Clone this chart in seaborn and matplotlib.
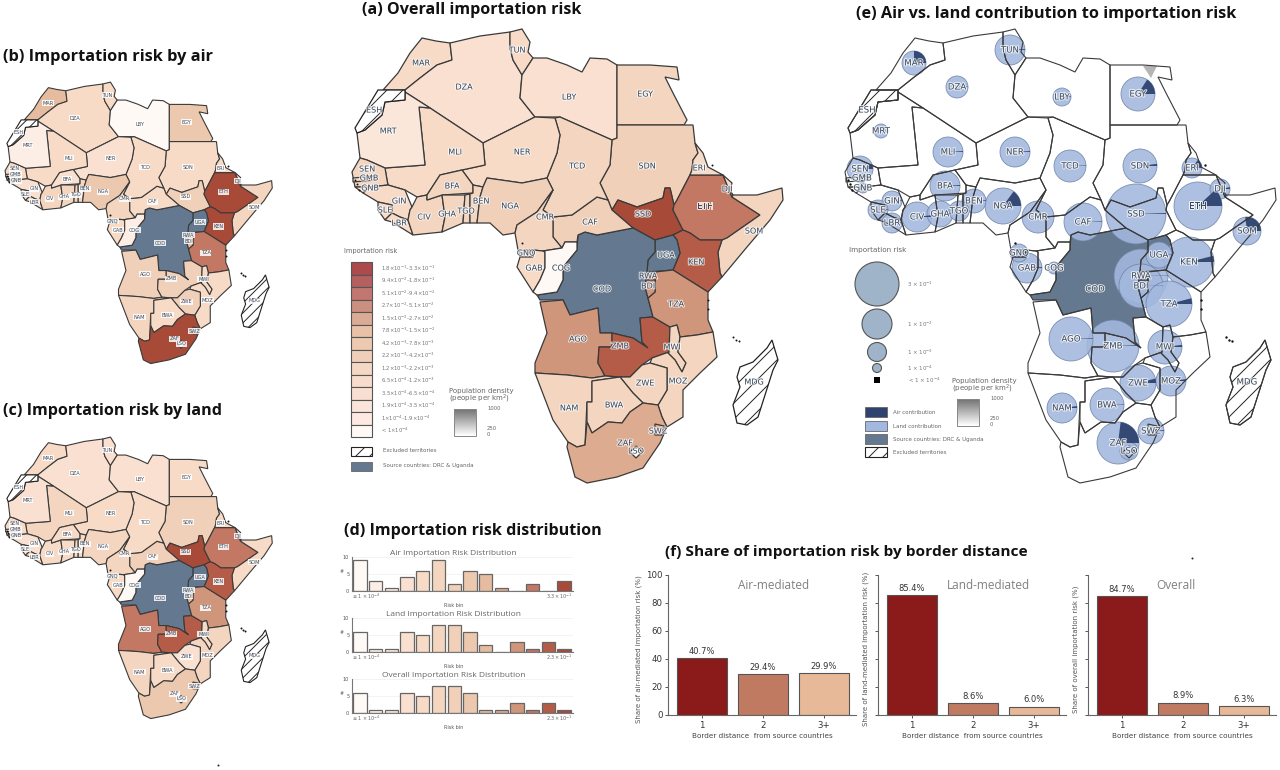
"""Importation risk figure: five Africa maps, risk histograms, border distance bars."""
import matplotlib
matplotlib.use("Agg")
import matplotlib.patheffects as pe
import matplotlib.pyplot as plt
import numpy as np
import seaborn as sns
from matplotlib.patches import Circle, Polygon, Rectangle, Wedge

# country outlines, hand traced (map units, y down)
OUTLINES = {
    "MAR": [(422,38),(436,41),(450,43),(452,60),(437,65),(420,78),(405,90),(383,90),(398,73),(410,53)],
    "DZA": [(450,43),(480,36),(510,32),(510,48),(513,60),(522,75),(520,98),(535,117),(483,143),(430,108),(405,92),(405,90),(420,78),(437,65),(452,60)],
    "TUN": [(510,32),(522,29),(530,42),(528,52),(533,58),(522,75),(513,60),(510,48)],
    "LBY": [(533,58),(547,58),(567,65),(582,72),(590,58),(607,59),(617,65),(617,125),(617,138),(612,140),(560,117),(535,117),(520,98),(522,75)],
    "EGY": [(617,65),(650,65),(677,67),(679,80),(665,77),(673,93),(687,120),(684,125),(617,125)],
    "SDN": [(617,125),(684,125),(693,125),(695,143),(698,153),(693,160),(692,170),(690,175),(677,200),(674,205),(670,188),(665,188),(663,198),(637,207),(618,200),(612,210),(608,200),(600,183),(610,165),(612,140),(617,138)],
    "SSD": [(618,200),(637,207),(663,198),(665,188),(670,188),(674,205),(673,210),(683,230),(673,235),(655,240),(633,228),(612,210)],
    "ETH": [(690,175),(723,175),(732,197),(760,215),(727,238),(722,240),(700,240),(690,233),(683,230),(673,210),(674,205),(677,200)],
    "ERI": [(695,143),(703,153),(708,167),(723,175),(690,175),(692,170),(693,160),(698,153)],
    "DJI": [(723,175),(732,183),(730,190),(733,195),(732,197)],
    "SOM": [(733,195),(757,195),(782,188),(783,200),(770,220),(747,247),(722,277),(720,273),(718,252),(722,240),(727,238),(760,215),(732,197)],
    "KEN": [(673,235),(683,230),(690,233),(700,240),(722,240),(718,252),(720,273),(722,277),(708,292),(673,270),(680,253),(677,240)],
    "UGA": [(655,240),(673,235),(677,240),(680,253),(673,270),(647,272),(648,260),(655,252)],
    "COD": [(578,235),(585,232),(597,235),(633,228),(655,240),(655,252),(648,260),(647,272),(645,287),(648,298),(653,317),(640,318),(642,342),(648,348),(633,338),(612,333),(600,333),(598,308),(570,315),(563,300),(540,300),(537,295),(557,292),(563,280),(563,267),(577,250)],
    "CAF": [(597,197),(608,200),(612,210),(633,228),(597,235),(585,232),(578,235),(577,242),(565,242),(562,248),(553,237),(553,217),(572,215)],
    "TCD": [(555,118),(560,117),(612,140),(610,165),(600,183),(608,200),(597,197),(572,215),(553,217),(543,210),(553,190),(547,178),(557,153),(560,135)],
    "NER": [(483,143),(535,117),(555,118),(560,135),(557,153),(547,178),(522,183),(487,178),(483,187),(473,185),(462,170),(485,165)],
    "MLI": [(419,107),(430,108),(483,143),(485,165),(462,170),(440,175),(427,195),(417,197),(405,190),(388,185),(387,180),(385,168),(425,165)],
    "MRT": [(405,100),(405,92),(430,108),(419,107),(425,165),(385,168),(367,160),(360,158),(357,133),(365,130),(382,115),(385,102)],
    "ESH": [(355,128),(378,90),(383,90),(405,90),(405,100),(385,102),(382,115),(365,130),(357,133)],
    "SEN": [(352,172),(360,158),(367,160),(385,168),(387,180),(388,185),(370,187),(355,187)],
    "GMB": [(353,178),(375,176),(375,180),(353,182)],
    "GNB": [(355,187),(370,187),(363,193)],
    "GIN": [(363,193),(370,187),(388,185),(405,190),(412,207),(410,210),(408,220),(400,217),(392,213),(392,205),(378,202)],
    "SLE": [(378,202),(392,205),(392,213),(385,220),(378,210)],
    "LBR": [(385,220),(392,213),(400,217),(408,220),(413,235),(392,222)],
    "CIV": [(412,207),(417,197),(427,195),(427,200),(442,195),(445,217),(442,232),(413,235),(408,220),(410,210)],
    "BFA": [(427,195),(440,175),(462,170),(473,185),(473,193),(442,195),(427,200)],
    "GHA": [(442,195),(465,195),(463,223),(442,232),(445,217)],
    "TGO": [(465,195),(470,194),(470,223),(463,223)],
    "BEN": [(470,194),(473,193),(473,185),(483,187),(480,197),(477,223),(470,223)],
    "NGA": [(477,223),(480,197),(483,187),(487,178),(522,183),(547,178),(553,190),(537,212),(517,225),(515,233),(503,235),(490,223)],
    "CMR": [(515,233),(517,225),(537,212),(553,190),(543,210),(553,217),(553,237),(562,248),(543,251),(533,250),(518,250)],
    "GNQ": [(518,250),(533,250),(533,257),(520,257)],
    "GAB": [(520,257),(533,257),(533,250),(543,251),(545,252),(545,268),(540,280),(533,292),(517,267)],
    "COG": [(543,251),(562,248),(565,242),(577,242),(577,250),(563,267),(563,280),(557,292),(537,295),(533,292),(540,280),(545,268),(545,252)],
    "AGO": [(540,302),(563,300),(570,315),(598,308),(600,333),(612,333),(612,347),(599,347),(598,363),(605,376),(592,378),(567,375),(535,373),(535,363),(547,333)],
    "ZMB": [(640,318),(653,317),(670,327),(669,352),(652,358),(642,365),(630,377),(620,377),(605,376),(598,363),(599,347),(612,347),(612,333),(633,338),(648,348),(642,342)],
    "TZA": [(655,272),(673,270),(708,292),(708,320),(713,332),(697,335),(680,337),(677,325),(670,327),(653,317),(648,298),(655,292),(655,280)],
    "RWA": [(647,272),(655,272),(655,280),(646,280)],
    "BDI": [(646,280),(655,280),(655,292),(648,298),(645,287)],
    "MWI": [(670,327),(677,325),(680,337),(678,352),(686,363),(682,372),(675,360),(668,353),(669,352)],
    "MOZ": [(680,337),(697,335),(713,332),(717,357),(700,373),(683,390),(683,417),(667,427),(662,417),(658,405),(667,390),(667,368),(650,363),(652,358),(669,352),(668,353),(675,360),(682,372),(686,363),(678,352)],
    "ZWE": [(620,377),(630,377),(642,365),(650,363),(667,368),(667,390),(658,405),(643,403),(633,393)],
    "NAM": [(535,373),(567,375),(592,378),(605,376),(620,377),(592,381),(592,402),(587,402),(585,445),(577,447),(568,442),(553,420)],
    "BWA": [(592,381),(620,377),(633,393),(643,403),(630,412),(622,423),(608,422),(592,433),(587,422),(587,402),(592,402)],
    "ZAF": [(587,422),(592,433),(608,422),(622,423),(630,412),(643,403),(658,405),(662,417),(667,427),(660,443),(643,468),(617,477),(587,483),(575,477),(567,447),(568,442),(577,447),(585,445)],
    "SWZ": [(655,424),(664,426),(662,435),(655,435)],
    "LSO": [(630,452),(636,446),(642,452),(636,458)],
    "MDG": [(772,340),(778,360),(773,370),(758,417),(747,425),(737,423),(733,405),(740,387),(737,377),(740,367),(753,362),(767,348)],
}
EXCLUDED = ["ESH", "MDG"]
SOURCES = ["COD", "UGA"]

# risk class per country, 0 = lowest, 13 = highest
COUNTRIES = ["MAR","DZA","TUN","LBY","EGY","MRT","MLI","NER","TCD","SDN","ERI","DJI","ETH","SOM","SSD","CAF",
             "CMR","NGA","BEN","TGO","GHA","BFA","CIV","LBR","SLE","GIN","GNB","GMB","SEN","GAB","GNQ","COG",
             "KEN","TZA","RWA","BDI","AGO","ZMB","MWI","MOZ","ZWE","NAM","BWA","ZAF","SWZ","LSO"]
RISK_OVERALL = [4,3,4,3,5,2,4,4,5,6,4,4,11,5,13,6,5,6,5,5,5,5,5,4,4,4,3,4,5,4,4,0,12,10,10,10,10,12,5,5,5,5,5,9,9,0]
RISK_AIR = [8,4,4,0,7,1,4,3,4,4,4,3,13,5,6,4,5,7,5,5,5,3,5,4,4,3,3,3,4,4,4,1,13,11,8,8,6,6,4,4,6,5,4,13,9,0]
RISK_LAND = [4,3,3,3,4,3,5,4,4,6,4,3,11,4,13,6,5,5,4,4,4,4,4,4,4,3,3,3,4,4,4,0,12,10,8,8,11,12,4,5,3,5,4,7,7,0]

# circle radius and air share for the contribution map
CIRCLE_CODES = ["RWA","BDI","SSD","ZMB","ETH","KEN","TZA","AGO","ZAF","CAF","NGA","ZWE","EGY","SDN","BWA","MWI",
                "TCD","CMR","MLI","NER","BFA","CIV","TUN","MOZ","GAB","NAM","SOM","GHA","SEN","SWZ","UGA","MAR",
                "BEN","DZA","ERI","DJI","GIN","SLE","LBR","TGO","LBY","LSO","GNQ","MRT","COG","GNB"]
CIRCLE_RADII = [27,22,30,26,24,25,23,22,21,19,18,18,17,17,17,17,16,16,15,15,15,15,15,15,15,15,14,13,13,13,13,12,12,11,10,10,10,10,10,10,9,9,9,7,6,5]
AIR_SHARE = [.002,.002,.005,.005,.12,.04,.04,.005,.23,.005,.15,.04,.16,.02,.005,.02,.005,.01,.01,.01,.01,.02,.01,.02,.01,.02,.27,.01,.06,.01,.005,.25,.01,.005,.15,.03,.01,.01,.01,.01,.01,.01,.01,.01,.01,.01]

LABEL_POS = {
    "MAR":(421,63),"DZA":(464,87),"TUN":(517,50),"LBY":(569,97),"EGY":(645,94),"ESH":(374,110),"MRT":(388,131),
    "MLI":(455,152),"NER":(522,152),"TCD":(577,166),"SDN":(647,166),"ERI":(699,168),"DJI":(727,189),"ETH":(705,206),
    "SSD":(643,214),"SOM":(754,231),"SEN":(367,169),"GMB":(369,178),"GNB":(370,188),"GIN":(399,201),"SLE":(385,210),
    "LBR":(399,223),"CIV":(424,217),"BFA":(452,186),"GHA":(447,214),"TGO":(466,211),"BEN":(481,201),"NGA":(510,206),
    "CMR":(545,217),"CAF":(590,222),"GNQ":(526,253),"GAB":(534,268),"COG":(561,268),"COD":(602,289),"UGA":(666,255),
    "KEN":(696,262),"RWA":(648,276),"BDI":(648,286),"TZA":(676,304),"AGO":(578,339),"ZMB":(620,346),"MWI":(672,347),
    "MOZ":(678,381),"ZWE":(645,383),"NAM":(569,408),"BWA":(614,405),"SWZ":(658,431),"ZAF":(625,443),"LSO":(636,451),
    "MDG":(754,382),
}
ISLANDS = [(733,337),(736,340),(739,341),(708,300),(708,309),(712,165),(522,243),(355,180),(357,184),(359,190)]
NILE_DELTA = [(650,66),(664,66),(658,78)]

RISK_PALETTE = ["#fff9f5","#fdeee5","#fbe6da","#f9e0d0","#f7dbc7","#f4d6c0","#f0d0b8","#ecc9ae",
                "#e5bc9f","#dcab90","#d0967c","#c27863","#b45c48","#a84a38"]
LEGEND_PALETTE = ["#fff9f6","#fde9e1","#fbe4da","#f8dfd1","#f7dccb","#f4d8c4","#efcfb9","#ecc9b0",
                  "#e8c1a7","#dcab95","#cc9080","#c27670","#b5605e","#ad4a4c"]
SOURCE_COLOR = "#64788f"
AIR_COLOR = "#2f436f"
LAND_COLOR = "#a3b8de"
LEGEND_CIRCLE = "#9fb4c8"

RISK_BINS = ["<1", "2", "3", "4", "5", "6", "7", "8", "9", "10", "11", "12", "13", "14"]
RISK_RANGES = [r"1.8$\times10^{-1}$–3.3$\times10^{-1}$", r"9.4$\times10^{-2}$–1.8$\times10^{-1}$",
               r"5.1$\times10^{-2}$–9.4$\times10^{-2}$", r"2.7$\times10^{-2}$–5.1$\times10^{-2}$",
               r"1.5$\times10^{-2}$–2.7$\times10^{-2}$", r"7.8$\times10^{-3}$–1.5$\times10^{-2}$",
               r"4.2$\times10^{-3}$–7.8$\times10^{-3}$", r"2.2$\times10^{-3}$–4.2$\times10^{-3}$",
               r"1.2$\times10^{-3}$–2.2$\times10^{-3}$", r"6.5$\times10^{-4}$–1.2$\times10^{-3}$",
               r"3.5$\times10^{-4}$–6.5$\times10^{-4}$", r"1.9$\times10^{-4}$–3.5$\times10^{-4}$",
               r"1$\times10^{-4}$–1.9$\times10^{-4}$", r"< 1$\times10^{-4}$"]

HIST_AIR = [9, 3, 1, 4, 6, 9, 2, 6, 5, 1, 0, 2, 0, 3]
HIST_LAND = [6, 1, 1, 6, 5, 8, 8, 6, 2, 0, 3, 1, 3, 1]
HIST_OVERALL = [6, 1, 1, 6, 5, 8, 8, 6, 1, 1, 3, 1, 3, 1]

DISTANCE = ["1", "2", "3+"]
SHARE_AIR = [40.7, 29.4, 29.9]
SHARE_LAND = [85.4, 8.6, 6.0]
SHARE_OVERALL = [84.7, 8.9, 6.3]
DISTANCE_COLORS = ["#8b1a1a", "#c07a62", "#e8b999"]

W, H = 1280, 770
sns.set_theme(style="white", rc={"axes.linewidth": 0.8})
fig = plt.figure(figsize=(W / 100, H / 100), dpi=100, facecolor="white")


def px_axes(left, top, width, height):
    return fig.add_axes([left / W, 1 - (top + height) / H, width / W, height / H])


def map_axes(dx, dy, scale):
    ax = px_axes(dx + scale * 340, dy + scale * 20, scale * 460, scale * 480)
    ax.set_xlim(340, 800)
    ax.set_ylim(500, 20)
    ax.axis("off")
    return ax


def hatched(ax, pts, spacing, lw, zorder):
    """White shape with diagonal lines clipped to it."""
    patch = ax.add_patch(Polygon(pts, facecolor="white", edgecolor="#222222", lw=lw, zorder=zorder))
    xs, ys = zip(*pts)
    for c in np.arange(min(xs) + min(ys), max(xs) + max(ys), spacing):
        line, = ax.plot([min(xs), max(xs)], [c - min(xs), c - max(xs)], color="#222222", lw=0.7, zorder=zorder)
        line.set_clip_path(patch)


def draw_map(ax, classes, lw, fontsize, boxed):
    risk = dict(zip(COUNTRIES, classes))
    for code, pts in OUTLINES.items():
        if code in EXCLUDED:
            hatched(ax, pts, 16, lw, 1)
            continue
        color = SOURCE_COLOR if code in SOURCES else RISK_PALETTE[risk[code]]
        ax.add_patch(Polygon(pts, facecolor=color, edgecolor="#3a3a3a", lw=lw, zorder=1))
    ax.scatter(*zip(*ISLANDS), s=2, color="#111111", zorder=2, linewidths=0)
    draw_labels(ax, fontsize, boxed)


def draw_labels(ax, fontsize, boxed):
    for code, (x, y) in LABEL_POS.items():
        kw = {}
        if boxed:
            kw["bbox"] = dict(facecolor="white", edgecolor="none", pad=0.4, alpha=0.85)
        txt = ax.text(x, y, code, fontsize=fontsize, color="#3c4a5c", ha="center", va="center", zorder=6, **kw)
        if not boxed:
            txt.set_path_effects([pe.withStroke(linewidth=1.4, foreground="white", alpha=0.8)])


def draw_contribution_map(ax):
    for code, pts in OUTLINES.items():
        if code in EXCLUDED:
            hatched(ax, pts, 16, 0.8, 1)
            continue
        color = SOURCE_COLOR if code in SOURCES else "white"
        ax.add_patch(Polygon(pts, facecolor=color, edgecolor="none", zorder=1))
    ax.add_patch(Polygon(NILE_DELTA, facecolor="#b5b5b5", edgecolor="none", zorder=1))
    for code, radius, air in zip(CIRCLE_CODES, CIRCLE_RADII, AIR_SHARE):
        center = LABEL_POS[code]
        ax.add_patch(Circle(center, radius, facecolor=LAND_COLOR, edgecolor="#6f84a8", lw=0.6, alpha=0.88, zorder=2))
        # y axis runs down, so a negative start angle opens the wedge upwards
        ax.add_patch(Wedge(center, radius, -360 * air, 0, facecolor=AIR_COLOR, edgecolor="none", alpha=0.95, zorder=3))
    for code, pts in OUTLINES.items():
        ax.add_patch(Polygon(pts, fill=False, edgecolor="#3a3a3a", lw=0.8, zorder=4))
    ax.scatter(*zip(*ISLANDS), s=3, color="#111111", zorder=5, linewidths=0)
    draw_labels(ax, 6.2, False)


def risk_histogram(top, title, counts, high_label):
    ax = px_axes(352, top, 221, 34)
    sns.barplot(x=RISK_BINS, y=counts, hue=RISK_BINS, palette=RISK_PALETTE, legend=False, width=0.85,
                saturation=1, edgecolor="#666666", linewidth=0.9, ax=ax)
    ax.set_xlim(-0.51, 13.57)
    ax.set_ylim(0, 10)
    ax.set_yticks([0, 5, 10])
    ax.set_xticks([])
    ax.tick_params(axis="y", labelsize=3.5, length=0, pad=2, labelcolor="#555555")
    ax.yaxis.grid(True, color="#eeeeee", lw=0.5)
    ax.set_axisbelow(True)
    sns.despine(ax=ax)
    for side in ["left", "bottom"]:
        ax.spines[side].set_color("#777777")
    ax.set_ylabel("#", fontsize=3.5, color="#555555", labelpad=1, rotation=0)
    ax.set_title(title, fontsize=6, color="#666666", pad=1.5, x=0.46, family="Open Sans")
    ax.text(0.0, -0.24, r"$\leq 1\times10^{-4}$", transform=ax.transAxes, fontsize=3.5, color="#666666", ha="left")
    ax.text(1.0, -0.24, high_label, transform=ax.transAxes, fontsize=3.5, color="#666666", ha="right")
    ax.text(0.46, -0.46, "Risk bin", transform=ax.transAxes, fontsize=3.5, color="#555555", ha="center")


def share_bars(left, values, name, name_x, ylabel, show_labels, label_x):
    ax = px_axes(left, 575, 188, 140)
    sns.barplot(x=DISTANCE, y=values, hue=DISTANCE, palette=DISTANCE_COLORS, legend=False, width=0.82,
                saturation=1, edgecolor="#555555", linewidth=0.8, ax=ax)
    ax.set_xlim(-0.55, 2.53)
    ax.set_ylim(0, 100)
    ax.set_yticks([0, 20, 40, 60, 80, 100])
    ax.tick_params(axis="both", labelsize=6.2, length=2, width=0.7, pad=2, labelcolor="#333333", color="#555555",
                   bottom=True, left=True)
    if not show_labels:
        ax.set_yticklabels([])
    sns.despine(ax=ax)
    for side in ["left", "bottom"]:
        ax.spines[side].set_color("#666666")
    for pos, val in enumerate(values):
        ax.text(pos, val + 1.5, f"{val:.1f}%", fontsize=6, color="#333333", ha="center", va="bottom")
    ax.text(name_x, 0.925, name, transform=ax.transAxes, fontsize=8.5, color="#808080", ha="center", va="center",
            family="Open Sans")
    ax.set_ylabel(ylabel, fontsize=5, color="#555555")
    ax.yaxis.set_label_coords(label_x, 0.47)
    ax.set_xlabel("Border distance  from source countries", fontsize=5.2, color="#444444", labelpad=2.5)


def density_legend(ax, x, y):
    ax.text(x, y, "Population density", fontsize=5, color="#666666", va="center")
    ax.text(x, y + 8, "(people per km$^2$)", fontsize=5, color="#666666", va="center")
    ax.imshow(np.linspace(0.45, 1, 40).reshape(-1, 1), cmap="gray", vmin=0, vmax=1, aspect="auto",
              extent=(x + 5, x + 27, y + 45, y + 18), zorder=2)
    ax.add_patch(Rectangle((x + 5, y + 18), 22, 27, fill=False, edgecolor="#888888", lw=0.7, zorder=3))
    for text, offset in [("1000", 18), ("250", 38), ("0", 44)]:
        ax.text(x + 38, y + offset, text, fontsize=3.8, color="#666666", va="center")


# maps
draw_map(map_axes(0, 0, 1.0), RISK_OVERALL, 0.9, 5.8, False)
draw_map(map_axes(-213.2, 64.1, 0.62), RISK_AIR, 0.8, 3.6, True)
draw_map(map_axes(-213.2, 419.1, 0.62), RISK_LAND, 0.8, 3.6, True)
draw_contribution_map(map_axes(493, 0, 1.0))

# histograms and bars
risk_histogram(557, "Air Importation Risk Distribution", HIST_AIR, r"$3.3\times10^{-1}$")
risk_histogram(618, "Land Importation Risk Distribution", HIST_LAND, r"$2.3\times10^{-1}$")
risk_histogram(679, "Overall Importation Risk Distribution", HIST_OVERALL, r"$2.3\times10^{-1}$")
share_bars(668, SHARE_AIR, "Air-mediated", 0.56, "Share of air-mediated importation risk (%)", True, -0.138)
share_bars(878, SHARE_LAND, "Land-mediated", 0.59, "Share of land-mediated importation risk (%)", False, -0.048)
share_bars(1088, SHARE_OVERALL, "Overall", 0.47, "Share of overall importation risk (%)", False, -0.048)

# overlay in picture pixels for titles and legends
over = fig.add_axes([0, 0, 1, 1], zorder=10)
over.patch.set_alpha(0)
over.axis("off")
over.set_xlim(0, W)
over.set_ylim(H, 0)
over.set_autoscale_on(False)

TITLES = [("(a) Overall importation risk", 362, 10, 11.6), ("(b) Importation risk by air", 3, 57, 11.8),
          ("(c) Importation risk by land", 3, 411, 11.6), ("(d) Importation risk distribution", 344, 531, 11.6),
          ("(e) Air vs. land contribution to importation risk", 856, 14, 11.7),
          ("(f) Share of importation risk by border distance", 665, 552, 11.05)]
for text, x, y, size in TITLES:
    over.text(x, y, text, fontsize=size, family="Open Sans", weight="bold", color="#111111", va="center")

over.text(344, 251, "Importation risk", fontsize=4.8, color="#666666", va="center")
for i, (label, cls) in enumerate(zip(RISK_RANGES, range(13, -1, -1))):
    y = 262 + i * 12.5
    over.add_patch(Rectangle((351, y), 21, 12.5, facecolor=LEGEND_PALETTE[cls], edgecolor="#555555", lw=0.8))
    over.text(381, y + 6.2, label, fontsize=3.8, color="#777777", va="center")
hatched(over, [(351, 447), (372, 447), (372, 456), (351, 456)], 14, 0.8, 2)
over.text(383, 451, "Excluded territories", fontsize=4, color="#666666", va="center")
over.add_patch(Rectangle((351, 462), 21, 9, facecolor=SOURCE_COLOR, edgecolor="#555555", lw=0.5))
over.text(383, 466, "Source countries: DRC & Uganda", fontsize=4, color="#666666", va="center")
density_legend(over, 449, 391)

over.text(849, 250, "Importation risk", fontsize=5.2, color="#666666", va="center")
for (y, r, label) in [(284, 22, r"3 $\times$ 10$^{-1}$"), (324, 15, r"1 $\times$ 10$^{-2}$"),
                      (352, 9.5, r"1 $\times$ 10$^{-3}$"), (368, 4.5, r"1 $\times$ 10$^{-4}$")]:
    over.add_patch(Circle((877, y), r, facecolor=LEGEND_CIRCLE, edgecolor="#555555", lw=0.8))
    over.text(907, y, label, fontsize=4, color="#777777", va="center")
over.add_patch(Rectangle((874, 377), 6, 6, facecolor="black", edgecolor="none"))
over.text(908, 380, r"< 1 $\times$ 10$^{-4}$", fontsize=4, color="#777777", va="center")
for (y, color, label) in [(407, AIR_COLOR, "Air contribution"), (421, LAND_COLOR, "Land contribution"),
                          (434, SOURCE_COLOR, "Source countries: DRC & Uganda")]:
    over.add_patch(Rectangle((865, y), 22, 10, facecolor=color, edgecolor="#666666", lw=0.6))
    over.text(893, y + 5, label, fontsize=4, color="#666666", va="center")
hatched(over, [(865, 447), (887, 447), (887, 457), (865, 457)], 14, 0.8, 2)
over.text(893, 452, "Excluded territories", fontsize=4, color="#666666", va="center")
density_legend(over, 952, 381)
over.scatter([218, 1192], [765, 558], s=2, color="#222222", linewidths=0)

over.set_xlim(0, W)
over.set_ylim(H, 0)

fig.savefig("out.png", dpi=100)
